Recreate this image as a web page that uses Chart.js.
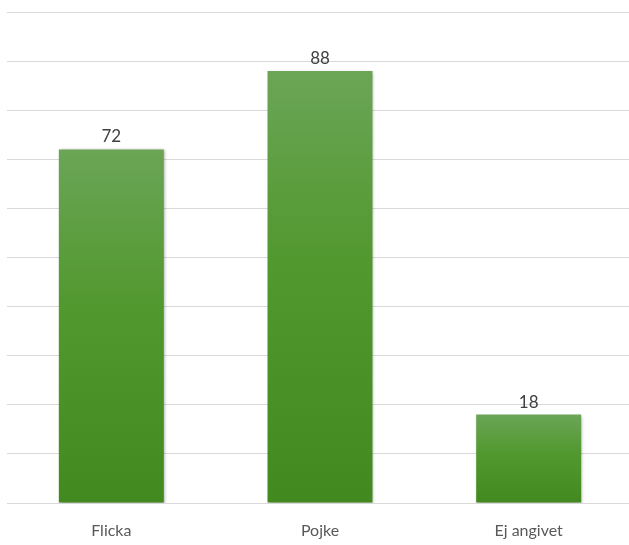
<!DOCTYPE html>
<html>
<head>
<meta charset="utf-8">
<script src="https://cdn.jsdelivr.net/npm/chart.js@4/dist/chart.umd.min.js"></script>
<style>
	html, body { margin: 0; padding: 0; background: #ffffff; overflow: hidden; }
	#wrap { width: 633px; height: 545px; position: relative; }
</style>
</head>
<body>
<div id="wrap"><canvas id="genderChart"></canvas></div>
<script>
var categories = [ 'Flicka', 'Pojke', 'Ej angivet' ];
var counts = [ 72, 88, 18 ];
var yTicks = [ 0, 10, 20, 30, 40, 50, 60, 70, 80, 90, 100 ];

// green bars, lighter at the top of each bar
function barGradient(context) {
	var chart = context.chart;
	var yScale = chart.scales.y;
	if (!yScale || !context.parsed) {
		return '#4f9330';
	}
	var top = yScale.getPixelForValue(context.parsed.y);
	var bottom = yScale.getPixelForValue(0);
	if (!isFinite(top) || !isFinite(bottom) || top === bottom) {
		return '#4f9330';
	}
	var grad = chart.ctx.createLinearGradient(0, top, 0, bottom);
	grad.addColorStop(0, '#6ba556');
	grad.addColorStop(0.45, '#51982e');
	grad.addColorStop(1, '#428a1f');
	return grad;
}

var barShadow = {
	id : 'barShadow',
	beforeDatasetsDraw : function(chart) {
		var ctx = chart.ctx;
		ctx.save();
		ctx.shadowColor = 'rgba(0, 0, 0, 0.35)';
		ctx.shadowBlur = 3;
		ctx.shadowOffsetX = 1;
		ctx.shadowOffsetY = 1;
	},
	afterDatasetsDraw : function(chart) {
		chart.ctx.restore();
	}
};

var valueLabels = {
	id : 'valueLabels',
	afterDatasetsDraw : function(chart) {
		var ctx = chart.ctx;
		var meta = chart.getDatasetMeta(0);
		ctx.save();
		ctx.font = '17px Lato, "Open Sans", sans-serif';
		ctx.fillStyle = '#404040';
		ctx.textAlign = 'center';
		ctx.textBaseline = 'bottom';
		meta.data.forEach(function(bar, i) {
			ctx.fillText(String(counts[i]), bar.x, bar.y - 4);
		});
		ctx.restore();
	}
};

var context2D = document.getElementById('genderChart').getContext('2d');

var myChart = new Chart(context2D, {
	type : 'bar',
	data : {
		labels : categories,
		datasets : [ {
			data : counts,
			backgroundColor : barGradient,
			borderWidth : 0,
			categoryPercentage : 1.0,
			barPercentage : 0.503
		} ]
	},
	options : {
		responsive : true,
		maintainAspectRatio : false,
		animation : false,
		layout : {
			padding : { left : 7, right : 0, top : 12, bottom : 0 }
		},
		plugins : {
			legend : { display : false },
			tooltip : { enabled : false },
			title : { display : false }
		},
		scales : {
			x : {
				grid : { display : false, drawTicks : false },
				border : { display : true, color : '#d9d9d9', width : 1 },
				ticks : {
					color : '#595959',
					font : { family : 'Lato, "Open Sans", sans-serif', size : 16 },
					padding : 18
				},
				afterFit : function(axis) {
					axis.height = 42;
				}
			},
			y : {
				min : yTicks[0],
				max : yTicks[yTicks.length - 1],
				afterBuildTicks : function(axis) {
					axis.ticks = yTicks.map(function(v) { return { value : v }; });
				},
				grid : { color : '#d9d9d9', lineWidth : 1, drawTicks : false },
				border : { display : false },
				ticks : { display : false }
			}
		}
	},
	plugins : [ barShadow, valueLabels ]
});
</script>
</body>
</html>
